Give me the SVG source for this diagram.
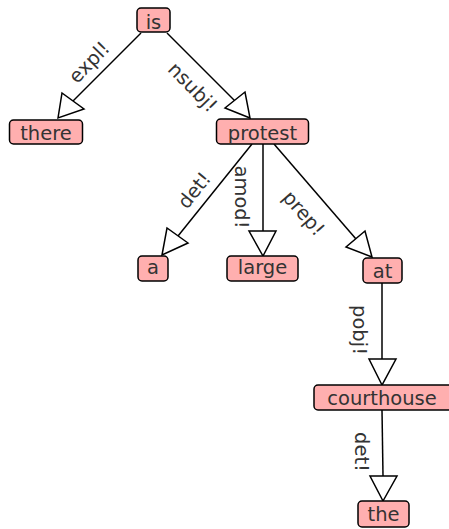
<svg xmlns="http://www.w3.org/2000/svg" width="449" height="529" viewBox="0 0 449 529">
<style>
.n rect{fill:#ffafaf;stroke:#000;stroke-width:1.5}
.n text{font-family:"DejaVu Sans",sans-serif;font-size:19.5px;fill:#333;text-anchor:middle}
.e line{stroke:#000;stroke-width:1.5}
.e polygon{fill:#fff;stroke:#000;stroke-width:1.5}
.l{font-family:"DejaVu Sans",sans-serif;font-size:19.5px;fill:#333;text-anchor:middle}
</style>
<rect width="449" height="529" fill="#fff"/>
<g id="edges" class="e">
<line x1="141" y1="33" x2="68" y2="106"/>
<polygon points="58,118 62,93 84,109"/>
<line x1="167" y1="33" x2="238" y2="104"/>
<polygon points="250,118 225,108 245,92"/>
<line x1="252" y1="144" x2="178" y2="236"/>
<polygon points="162,255 167,228 188,243"/>
<line x1="263" y1="144" x2="263" y2="231"/>
<polygon points="263,256 249,231 276,231"/>
<line x1="274" y1="144" x2="356" y2="239"/>
<polygon points="372,257 346,247 365,231"/>
<line x1="382" y1="283" x2="382" y2="359"/>
<polygon points="382,385 369,359 396,359"/>
<line x1="382" y1="410" x2="383" y2="476"/>
<polygon points="383,501 370,476 397,476"/>
<text class="l" transform="translate(89,62) rotate(-46)" dy="7">expl!</text>
<text class="l" transform="translate(193,87) rotate(45.7)" dy="7">nsubj!</text>
<text class="l" transform="translate(194,190) rotate(-51)" dy="7">det!</text>
<text class="l" transform="translate(242,197) rotate(90)" dy="7">amod!</text>
<text class="l" transform="translate(304,213) rotate(49)" dy="7">prep!</text>
<text class="l" transform="translate(360,330) rotate(90)" dy="7">pobj!</text>
<text class="l" transform="translate(362,452) rotate(90)" dy="7">det!</text>
</g>
<g id="n-is" class="n"><rect x="137" y="8" width="33" height="24" rx="4"/><text x="153.5" y="29">is</text></g>
<g id="n-there" class="n"><rect x="9.5" y="120" width="73" height="24" rx="4"/><text x="46" y="140">there</text></g>
<g id="n-protest" class="n"><rect x="216.5" y="119" width="92" height="25" rx="4"/><text x="262.5" y="140">protest</text></g>
<g id="n-a" class="n"><rect x="138" y="256" width="30" height="25" rx="4"/><text x="153" y="274">a</text></g>
<g id="n-large" class="n"><rect x="227" y="256" width="71" height="25" rx="4"/><text x="262.5" y="274">large</text></g>
<g id="n-at" class="n"><rect x="363" y="258" width="39" height="25" rx="4"/><text x="382.5" y="278">at</text></g>
<g id="n-courthouse" class="n"><rect x="314" y="385" width="140" height="25" rx="4"/><text x="382" y="405">courthouse</text></g>
<g id="n-the" class="n"><rect x="358" y="501" width="51" height="26" rx="4"/><text x="383.5" y="521">the</text></g>
</svg>
